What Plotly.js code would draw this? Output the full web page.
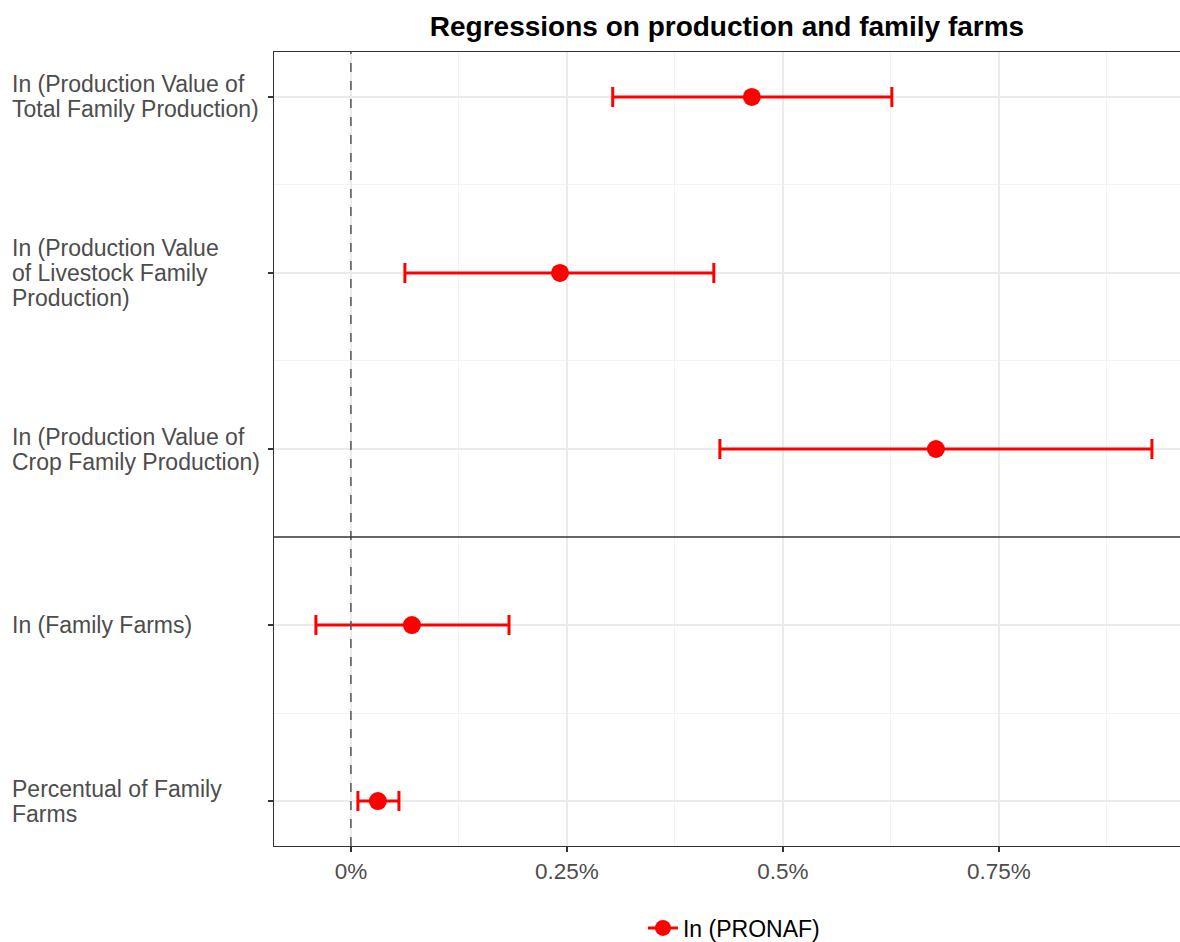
<!DOCTYPE html>
<html>
<head>
<meta charset="utf-8">
<script src="https://cdn.plot.ly/plotly-3.0.1.min.js"></script>
<style>html,body{margin:0;padding:0;background:#fff;}#chart{width:1180px;height:942px;}</style>
</head>
<body>
<div id="chart"></div>
<script>
const categories = [
  ["In (Production Value of", "Total Family Production)"],
  ["In (Production Value", "of Livestock Family", "Production)"],
  ["In (Production Value of", "Crop Family Production)"],
  ["In (Family Farms)"],
  ["Percentual of Family", "Farms"]
];
const estimates = [0.464, 0.242, 0.677, 0.0706, 0.0312];
const lower = [0.303, 0.0625, 0.427, -0.0405, 0.0081];
const upper = [0.626, 0.420, 0.927, 0.183, 0.0556];
const xTickVals = [0, 0.25, 0.5, 0.75];
const xTickText = ["0%", "0.25%", "0.5%", "0.75%"];
const seriesName = "In (PRONAF)";

const FONT = "Liberation Sans, Arial, sans-serif";
const n = categories.length;
const yPos = categories.map((c, i) => n - i);

const trace = {
  type: "scatter",
  mode: "markers",
  x: estimates,
  y: yPos,
  marker: {color: "#FF0000", size: 18},
  error_x: {
    type: "data",
    symmetric: false,
    array: upper.map((u, i) => u - estimates[i]),
    arrayminus: estimates.map((e, i) => e - lower[i]),
    color: "#FF0000",
    thickness: 3,
    width: 10
  },
  showlegend: false,
  hoverinfo: "x+y"
};
const legendTrace = {
  type: "scatter",
  mode: "lines+markers",
  x: [null],
  y: [null],
  name: seriesName,
  line: {color: "#FF0000", width: 3},
  marker: {color: "#FF0000", size: 16},
  showlegend: true
};

const xRange = [-0.089, 0.9595];
const LINE_H = 25;
const annotations = [];
categories.forEach((lines, i) => {
  lines.forEach((ln, j) => {
    annotations.push({
      text: ln,
      xref: "paper",
      yref: "y",
      x: -0.2914,
      y: yPos[i],
      yshift: ((lines.length - 1) / 2 - j) * LINE_H,
      xanchor: "left",
      yanchor: "middle",
      align: "left",
      showarrow: false,
      font: {family: FONT, size: 23, color: "#4D4D4D"}
    });
  });
});

const shapes = [
  {type: "line", xref: "x", yref: "paper", x0: 0, x1: 0, y0: 0, y1: 1,
   line: {color: "#555555", width: 1.5, dash: "dash"}},
  {type: "line", xref: "paper", yref: "y", x0: 0, x1: 1, y0: 2.5, y1: 2.5,
   line: {color: "#333333", width: 1.6}}
];

const layout = {
  width: 1180,
  height: 942,
  margin: {l: 274, r: 0, t: 52, b: 96},
  paper_bgcolor: "#ffffff",
  plot_bgcolor: "#ffffff",
  title: {
    text: "<b>Regressions on production and family farms</b>",
    x: 0.5, xref: "paper", xanchor: "center",
    y: 0.972, yref: "container", yanchor: "middle",
    font: {family: FONT, size: 28, color: "#000000"}
  },
  xaxis: {
    range: xRange,
    tickvals: xTickVals,
    ticktext: xTickText,
    ticks: "outside",
    ticklen: 5,
    tickwidth: 1.5,
    tickcolor: "#333333",
    showgrid: true,
    gridcolor: "#EBEBEB",
    gridwidth: 1.6,
    minor: {tickvals: [0.125, 0.375, 0.625, 0.875], showgrid: true, gridcolor: "#F2F2F2", gridwidth: 0.9, ticks: ""},
    zeroline: false,
    showline: true,
    linecolor: "#333333",
    linewidth: 1,
    mirror: true,
    tickfont: {family: FONT, size: 22.5, color: "#4D4D4D"}
  },
  yaxis: {
    range: [0.745, 5.255],
    tickvals: yPos,
    ticktext: yPos.map(() => ""),
    showticklabels: false,
    ticks: "outside",
    ticklen: 5,
    tickwidth: 1.5,
    tickcolor: "#333333",
    showgrid: true,
    gridcolor: "#EBEBEB",
    gridwidth: 1.6,
    minor: {tickvals: [1.5, 3.5, 4.5], showgrid: true, gridcolor: "#F2F2F2", gridwidth: 0.9, ticks: ""},
    zeroline: false,
    showline: true,
    linecolor: "#333333",
    linewidth: 1,
    mirror: true
  },
  showlegend: true,
  legend: {
    orientation: "h",
    xref: "container",
    x: 0.622, xanchor: "center",
    yref: "container",
    y: 0.0149, yanchor: "middle",
    itemwidth: 30,
    font: {family: FONT, size: 23, color: "#000000"}
  },
  annotations: annotations,
  shapes: shapes
};

Plotly.newPlot("chart", [trace, legendTrace], layout, {displayModeBar: false, staticPlot: true});
</script>
</body>
</html>
